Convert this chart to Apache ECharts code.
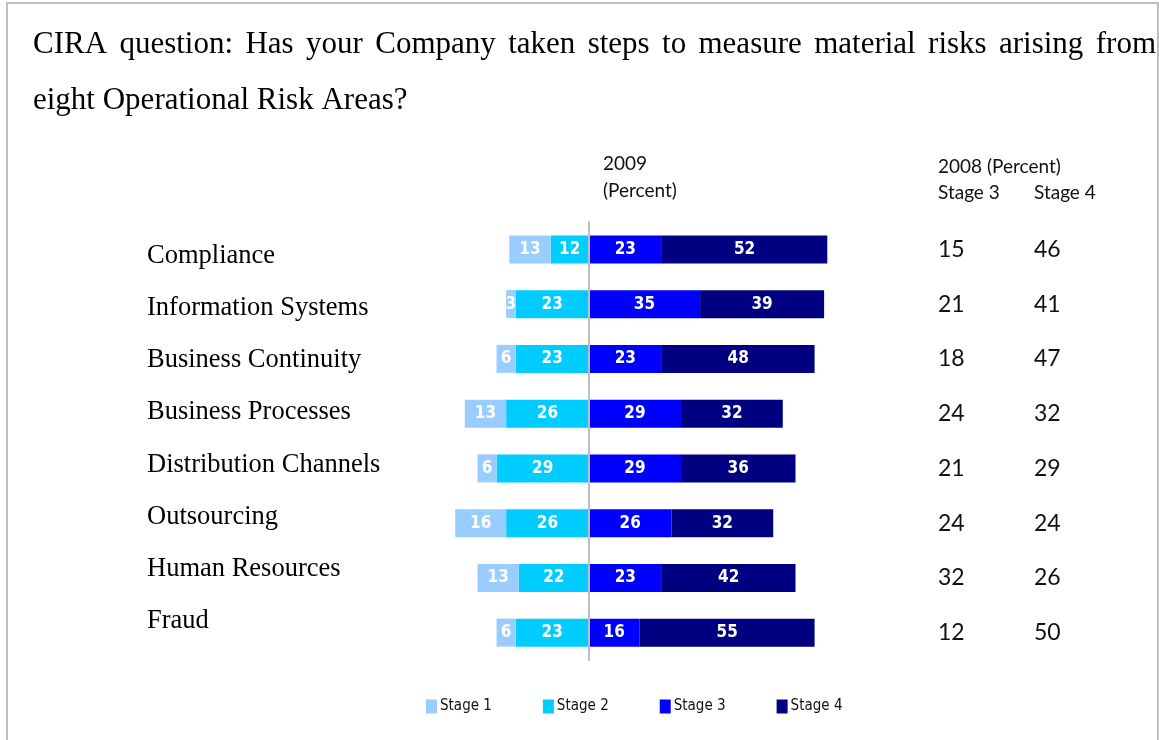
<!DOCTYPE html>
<html>
<head>
<meta charset="utf-8">
<title>CIRA – Operational Risk Areas</title>
<script src="https://cdn.jsdelivr.net/npm/echarts@6/dist/echarts.min.js"></script>
<style>
  html, body { margin: 0; padding: 0; background: #ffffff; }
  #chart { width: 1159px; height: 740px; }
</style>
</head>
<body>
<div id="chart"></div>
<script>
// Risk areas, top to bottom
const categories = [
  'Compliance', 'Information Systems', 'Business Continuity', 'Business Processes',
  'Distribution Channels', 'Outsourcing', 'Human Resources', 'Fraud'
];
// 2009 survey shares (percent) per stage
const stage1 = [13, 3, 6, 13, 6, 16, 13, 6];
const stage2 = [12, 23, 23, 26, 29, 26, 22, 23];
const stage3 = [23, 35, 23, 29, 29, 26, 23, 16];
const stage4 = [52, 39, 48, 32, 36, 32, 42, 55];
// 2008 comparison columns (percent)
const stage3of2008 = [15, 21, 18, 24, 21, 24, 32, 12];
const stage4of2008 = [46, 41, 47, 32, 29, 24, 26, 50];
const stageNames = ['Stage 1', 'Stage 2', 'Stage 3', 'Stage 4'];
const titleLines = [
  'CIRA question: Has your Company taken steps to measure material risks arising from',
  'eight Operational Risk Areas?'
];

const colors = { s1: '#99CCFF', s2: '#00CCFF', s3: '#0000FF', s4: '#000080' };
const serif = '"Liberation Serif", "Times New Roman", serif';
const narrow = '"Liberation Sans Narrow", "DejaVu Sans Condensed", "Arial Narrow", sans-serif';
const sans = 'Lato, Calibri, "Open Sans", sans-serif';

// Justified first title line: spread the words across the full text width
function justifiedWords(text, left, right, y, size) {
  const ctx = document.createElement('canvas').getContext('2d');
  ctx.font = size + 'px ' + serif;
  const words = text.split(' ');
  const widths = words.map(w => ctx.measureText(w).width);
  const total = widths.reduce((a, b) => a + b, 0);
  const normalGap = ctx.measureText(' ').width;
  let gap = (right - left - total) / (words.length - 1);
  if (gap < normalGap) gap = normalGap;
  const out = [];
  let x = left;
  words.forEach((w, i) => {
    out.push({
      type: 'text', left: x, top: y - size / 2, z: 10,
      style: { text: w, font: size + 'px ' + serif, fill: '#000' }
    });
    x += widths[i] + gap;
  });
  return out;
}

const chart = echarts.init(document.getElementById('chart'));

const barLabel = {
  show: true,
  position: 'inside',
  color: '#ffffff',
  fontFamily: narrow,
  fontWeight: 'bold',
  fontSize: 17,
  formatter: p => Math.abs(p.value)
};

const headerStyle = (t) => ({ text: t, font: '19px ' + sans, fill: '#111' });

const graphics = [
  {
    type: 'rect', z: 0, silent: true,
    shape: { x: 7, y: 3, width: 1151, height: 800 },
    style: { fill: 'none', stroke: '#BFBFBF', lineWidth: 2 }
  },
  ...justifiedWords(titleLines[0], 33, 1156, 45, 31),
  {
    type: 'text', left: 33, top: 101 - 15.5, z: 10,
    style: { text: titleLines[1], font: '31px ' + serif, fill: '#000' }
  },
  { type: 'text', left: 603, top: 154, style: headerStyle('2009') },
  { type: 'text', left: 603, top: 181, style: headerStyle('(Percent)') },
  { type: 'text', left: 938, top: 157, style: headerStyle('2008 (Percent)') },
  { type: 'text', left: 938, top: 183, style: headerStyle('Stage 3') },
  { type: 'text', left: 1034, top: 183, style: headerStyle('Stage 4') }
];

const sideAxis = (values, margin) => ({
  type: 'category', gridIndex: 0, position: 'right', inverse: true,
  data: categories,
  axisLine: { show: false }, axisTick: { show: false },
  axisLabel: {
    margin: margin, align: 'left', fontFamily: sans, fontSize: 23, color: '#111',
    formatter: (v, i) => String(values[i])
  }
});

chart.setOption({
  animation: false,
  backgroundColor: '#ffffff',
  graphic: graphics,
  legend: {
    data: stageNames,
    left: 426, top: 699, padding: 0,
    icon: 'rect', itemWidth: 11, itemHeight: 14, itemGap: 51,
    textStyle: { fontFamily: narrow, fontSize: 15, color: '#111', padding: [0, 0, 0, -2] }
  },
  grid: [
    // bars
    { left: 398, top: 222, width: 477, height: 438 },
    // category names
    { left: 147, top: 230, width: 10, height: 417 }
  ],
  xAxis: [
    { type: 'value', gridIndex: 0, min: -60, max: 90, show: false },
    { type: 'value', gridIndex: 1, show: false }
  ],
  yAxis: [
    {
      type: 'category', gridIndex: 0, inverse: true, data: categories, z: 5,
      axisLine: { onZero: true, lineStyle: { color: '#BFBFBF', width: 2 } },
      axisTick: { show: false }, axisLabel: { show: false }, splitLine: { show: false }
    },
    sideAxis(stage3of2008, 63),
    sideAxis(stage4of2008, 159),
    {
      type: 'category', gridIndex: 1, inverse: true, data: categories,
      axisLine: { show: false }, axisTick: { show: false },
      axisLabel: { margin: 0, align: 'left', fontFamily: serif, fontSize: 26.5, color: '#000' }
    }
  ],
  series: [
    {
      name: 'Stage 2', type: 'bar', stack: 'share', barWidth: 28,
      itemStyle: { color: colors.s2 }, label: barLabel,
      data: stage2.map(v => -v)
    },
    {
      name: 'Stage 1', type: 'bar', stack: 'share', barWidth: 28,
      itemStyle: { color: colors.s1 }, label: barLabel,
      data: stage1.map(v => -v)
    },
    {
      name: 'Stage 3', type: 'bar', stack: 'share', barWidth: 28,
      itemStyle: { color: colors.s3 }, label: barLabel,
      data: stage3
    },
    {
      name: 'Stage 4', type: 'bar', stack: 'share', barWidth: 28,
      itemStyle: { color: colors.s4 }, label: barLabel,
      data: stage4
    }
  ]
});
</script>
</body>
</html>
